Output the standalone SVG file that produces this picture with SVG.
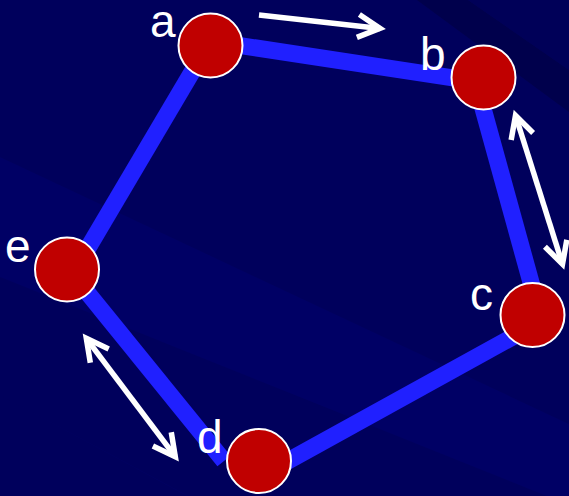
<svg xmlns="http://www.w3.org/2000/svg" width="569" height="496" viewBox="0 0 569 496">
  <defs>
    <style>
      .edge { stroke: #2020FF; stroke-width: 17; stroke-linecap: butt; fill: none; }
      .node { fill: #C00000; stroke: #FFFFFF; stroke-width: 2; }
      .label { font-family: "Liberation Sans", Arial, sans-serif; font-size: 46px; fill: #FFFFFF; }
      .arrow { stroke: #FFFFFF; stroke-width: 5.5; fill: none; }
    </style>
    <marker id="head" markerUnits="userSpaceOnUse" orient="auto-start-reverse" refX="0" refY="0" markerWidth="60" markerHeight="60" overflow="visible">
      <path d="M -22,-11.5 L 0,0 L -22,11.5" fill="none" stroke="#FFFFFF" stroke-width="5.5" stroke-linejoin="miter"/>
    </marker>
  </defs>

  <g id="background">
    <rect x="0" y="0" width="569" height="496" fill="#00005C"/>
    <polygon points="0,157 569,424 569,505 0,277" fill="#000065"/>
    <polygon points="0,395 569,700 569,496 187,496" fill="#000064"/>
    <polygon points="417,0 468,0 569,70 569,112" fill="#00004C"/>
    <polygon points="468,0 569,0 569,70" fill="#000058"/>
  </g>

  <g id="connectors">
    <line class="edge" x1="210" y1="41" x2="484" y2="82.7"/>
    <line class="edge" x1="474.6" y1="78" x2="540" y2="315"/>
    <line class="edge" x1="533" y1="325.7" x2="268" y2="472"/>
    <line class="edge" x1="224" y1="461" x2="78" y2="281"/>
    <line class="edge" x1="75" y1="270" x2="208" y2="45"/>
    <line class="arrow" x1="259" y1="15" x2="380" y2="28.4" marker-end="url(#head)"/>
    <line class="arrow" x1="515.5" y1="115.5" x2="562.5" y2="264.2" marker-start="url(#head)" marker-end="url(#head)"/>
    <line class="arrow" x1="86.3" y1="338.3" x2="175.3" y2="456.7" marker-start="url(#head)" marker-end="url(#head)"/>
  </g>

  <g id="node-a">
    <circle class="node" cx="210.5" cy="45.5" r="32"/>
    <text class="label" x="150" y="37">a</text>
  </g>
  <g id="node-b">
    <circle class="node" cx="483.5" cy="77.5" r="32"/>
    <text class="label" x="420" y="70">b</text>
  </g>
  <g id="node-c">
    <circle class="node" cx="532.5" cy="315" r="32"/>
    <text class="label" x="470" y="310">c</text>
  </g>
  <g id="node-d">
    <circle class="node" cx="259" cy="461" r="32"/>
    <text class="label" x="197" y="453">d</text>
  </g>
  <g id="node-e">
    <circle class="node" cx="67" cy="269.5" r="32"/>
    <text class="label" x="5" y="262">e</text>
  </g>
</svg>
